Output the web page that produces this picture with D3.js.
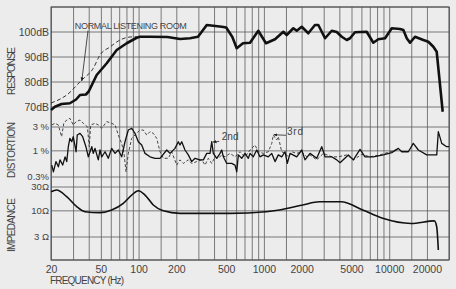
<!DOCTYPE html>
<html>
<head>
<meta charset="utf-8">
<script src="https://cdn.jsdelivr.net/npm/d3@7"></script>
<style>
  body { margin: 0; background: #ececec; }
  svg { display: block; }
  text { font-family: "Liberation Sans", Arial, sans-serif; fill: #444; }
  .grid line { stroke: #5c5c5c; stroke-width: 0.8; }
</style>
</head>
<body>
<script>
// chart size (note: "top" is taken by window.top, so plot* names)
var W = 456, H = 289
var plotLeft = 51, plotRight = 449, plotTop = 7, plotBottom = 260

// frequency grid + labels
var gridFreqs = [20,30,40,50,60,70,80,90,100,150,200,300,400,500,600,700,800,900,
  1000,1500,2000,3000,4000,5000,6000,7000,8000,9000,10000,15000,20000,30000]
var freqLabels = [20,50,100,200,500,1000,2000,5000,10000,20000]

// y tick values per panel
var respTicks = [100, 90, 80, 70]
var respLabels = ["100dB", "90dB", "80dB", "70dB"]
var distTicks = [3, 1, 0.3]
var distLabels = ["3 %", "1 %", "0.3%"]
var impTicks = [30, 10, 3]
var impLabels = ["30\u03a9", "10\u03a9", "3 \u03a9"]

// frequency response, [Hz, dB]
var response = [[20,68.8],[21.5,70.1],[24.3,71.2],[28.3,71.5],[31.7,73],[34.1,74.8],[38,75],
  [40,76.2],[46.3,82.8],[55.7,87.5],[66.9,92.8],[80.4,95.5],[96.6,97.7],[102.6,98.1],[123,98.1],
  [170,98],[214,97.2],[257,97.5],[298,98.1],[350,102.8],[461,102.1],[500,101.8],[560,98],[607,93.5],
  [681,95.5],[775,95.7],[902,100.5],[1039,95.5],[1227,97.1],[1429,100.1],[1520,98.8],[1718,101.5],
  [1828,100.5],[2004,102.1],[2261,99.5],[2557,102.8],[2718,102.8],[3076,97.5],[3478,100.5],
  [3813,100],[4180,98.1],[4583,96.8],[4866,97.5],[5336,99.9],[6610,100.1],[7466,95.7],[8185,97.1],
  [9267,97.5],[10480,101.5],[12200,101.2],[12970,100.8],[13800,97.5],[14660,95.7],[16070,98.1],
  [18720,96.8],[20520,96.1],[22500,94.1],[23930,92.1],[26720,68.1]]

// normal listening room, [Hz, dB]
var room = [[20,71.6],[26.7,74.8],[35.2,80.8],[43.5,85.5],[49.2,90.8],[59.1,94],[71.1,96.8],
  [85.4,98],[97,98.1]]

// 2nd harmonic distortion, [Hz, %]
var second = [[20.3,0.52],[20.9,0.38],[21.9,0.61],[22.9,0.48],[23.6,0.66],[24.8,0.52],[25.9,0.76],
  [26.7,0.61],[27.5,1.21],[28.3,1.78],[29.3,1.52],[30.1,1.92],[31.7,0.96],[32.4,2.07],[34.1,2.24],
  [35.8,1.92],[38,1.21],[39.7,0.76],[42.3,1.21],[43.5,0.89],[44.9,1.12],[47.7,0.66],[49.2,1.04],
  [50.8,0.76],[54,0.96],[57.3,0.71],[61,1.12],[64.9,0.89],[68.9,1.04],[73.3,0.76],[77.9,1.52],
  [82.8,2.61],[88.1,2.83],[93.6,2.24],[99.5,1.52],[105.9,1.31],[112.6,0.89],[123.3,0.76],
  [135.2,0.71],[148.2,0.71],[167.7,1.04],[178.2,0.89],[195.2,1.12],[207.5,1.52],[214,1.31],
  [220.9,1.52],[234.6,1.04],[249.3,0.83],[265.3,0.61],[281.9,0.71],[309.2,0.66],[328.6,0.66],
  [349.8,0.89],[371.6,0.89],[383.4,1.52],[394.9,0.89],[420.4,0.71],[446.7,0.89],[460.9,1.04],
  [474.7,0.76],[505.2,0.56],[553.6,0.56],[588.3,0.52],[607,0.38],[625.1,0.83],[665.3,0.71],
  [706.9,0.89],[751,0.71],[775,0.89],[823,0.76],[876.6,1.04],[931.4,0.76],[989.5,0.83],
  [1085,0.76],[1155,0.89],[1227,0.61],[1303,0.83],[1387,0.76],[1474,0.96],[1538,0.56],[1617,0.89],
  [1828,0.76],[2004,1.04],[2129,0.66],[2334,0.89],[2640,0.71],[2894,1.21],[3076,0.76],[3478,0.76],
  [3813,0.66],[4052,0.58],[4719,0.83],[5172,0.66],[5850,1.07],[6411,0.76],[7466,0.76],[8973,0.83],
  [10474,0.92],[11825,1.12],[12588,0.96],[14212,0.96],[15570,1.41],[17080,1.04],[19930,0.83],
  [23940,0.83],[24660,2.42],[26250,1.41],[28770,1.21],[30000,1.21]]

// 3rd harmonic distortion, [Hz, %]
var third = [[20.3,3.29],[21.5,3.56],[22.9,3.29],[24.3,1.92],[25.3,3.56],[26.7,4.14],[28.3,4.48],
  [30.1,3.29],[31.7,3.83],[34.1,4.14],[36.2,3.56],[39,3.04],[40.4,1.21],[41.5,3.29],[44.9,3.56],
  [47.7,3.29],[50.8,2.83],[55.7,3.83],[61,3.56],[64.9,3.29],[68.9,2.07],[73.3,1.41],[76.5,0.89],
  [79.4,0.38],[82.8,0.89],[88.1,1.78],[96.6,2.24],[102.6,2.61],[109.1,2.61],[116.1,2.07],
  [123.3,2.42],[131,2.24],[139.5,1.78],[148.2,0.96],[157.5,0.71],[172.7,0.71],[183.9,0.96],
  [201.5,0.52],[214,0.66],[227.4,0.56],[249.3,0.66],[265.3,0.56],[291,0.61],[319,0.66],[339,0.52],
  [360.2,0.71],[383.4,0.56],[407.4,0.76],[433,0.71],[460.9,0.83],[489.7,0.76],[536.6,0.89],
  [588.3,0.76],[644.9,0.96],[706.9,0.76],[775,1.04],[849,1.31],[902.7,0.96],[989.5,0.89],
  [1085,0.96],[1155,1.41],[1189,2.07],[1265,1.65],[1303,1.92],[1387,0.96],[1474,0.89],[1566,0.76],
  [1667,0.96],[1828,0.89],[2004,0.96],[2196,0.76],[2334,0.83],[2640,0.66],[2981,0.89],[3478,0.76],
  [3927,0.76],[4582,0.83],[5172,0.66],[6036,0.85],[7026,0.76],[8448,0.83],[10153,0.96],[11825,1.09]]

// impedance, [Hz, ohm]
var impedance = [[20,24.2],[22.2,26.1],[26.7,19.2],[32.1,12.1],[37.3,9.6],[49.2,9.2],[61,10.4],
  [75.5,14.1],[88.1,20.7],[99.5,25.2],[112.6,20.7],[131,13.1],[157.5,10],[214,8.9],[537,8.9],
  [1040,9.6],[1328,10.4],[2041,13.1],[2769,15.2],[4125,15.2],[6148,10.4],[8877,7.1],[14930,5.6],
  [22920,6.3],[23940,4.8],[24660,1.65]]

var svg = d3.select("body").append("svg")
  .attr("width", W)
  .attr("height", H)

var x = d3.scaleLog().domain([20, 30000]).range([plotLeft, plotRight])
var yResp = d3.scaleLinear().domain([70, 110]).range([107, plotTop])
var yDist = d3.scaleLog().domain([0.3, 3]).range([177, 127])
var yImp = d3.scaleLog().domain([3, 30]).range([237, 187])

svg.append("rect").attr("width", W).attr("height", H).attr("fill", "#ececec")

// vertical grid through the whole plot
svg.append("g")
  .attr("class", "grid")
  .attr("transform", "translate(0," + plotBottom + ")")
  .call(d3.axisBottom(x).tickValues(gridFreqs).tickSize(-(plotBottom - plotTop)).tickFormat(""))
  .call(function(g) { g.select(".domain").remove() })

// horizontal grid lines
var hLines = [plotTop].concat(respTicks.map(yResp), distTicks.map(yDist), impTicks.map(yImp), [plotBottom])
svg.append("g").attr("class", "grid")
  .selectAll("line").data(hLines).enter().append("line")
  .attr("x1", plotLeft).attr("x2", plotRight)
  .attr("y1", function(d) { return d }).attr("y2", function(d) { return d })

// outer frame
svg.append("rect")
  .attr("x", plotLeft).attr("y", plotTop)
  .attr("width", plotRight - plotLeft).attr("height", plotBottom - plotTop)
  .attr("fill", "none").attr("stroke", "#4a4a4a").attr("stroke-width", 1)

// frequency labels
var xAxis = svg.append("g")
  .attr("transform", "translate(0," + plotBottom + ")")
  .call(d3.axisBottom(x).tickValues(freqLabels).tickSize(0).tickPadding(6).tickFormat(d3.format("d")))
xAxis.select(".domain").remove()
xAxis.selectAll("text").style("font-size", "10.5px").attr("fill", "#444")
  .style("font-family", "'Liberation Sans', Arial, sans-serif")

svg.append("text").attr("x", plotLeft - 1).attr("y", 284)
  .style("font-size", "10px").attr("textLength", 74).text("FREQUENCY  (Hz)")

// left tick labels
function leftLabels(ticks, labels, scale, size) {
  svg.append("g").selectAll("text").data(ticks).enter().append("text")
    .attr("x", plotLeft - 2)
    .attr("y", function(d) { return scale(d) })
    .attr("dy", "0.35em")
    .attr("text-anchor", "end")
    .style("font-size", size)
    .text(function(d, i) { return labels[i] })
}
leftLabels(respTicks, respLabels, yResp, "10.5px")
leftLabels(distTicks, distLabels, yDist, "9.5px")
leftLabels(impTicks, impLabels, yImp, "9.5px")

// rotated panel titles
function panelTitle(txt, cy, len) {
  svg.append("text")
    .attr("transform", "translate(15," + cy + ") rotate(-90)")
    .attr("text-anchor", "middle")
    .attr("textLength", len)
    .style("font-size", "10px")
    .text(txt)
}
panelTitle("RESPONSE", 71, 48)
panelTitle("DISTORTION", 150, 56)
panelTitle("IMPEDANCE", 225, 54)

// curves
var lineResp = d3.line().x(function(d) { return x(d[0]) }).y(function(d) { return yResp(d[1]) })
var lineDist = d3.line().x(function(d) { return x(d[0]) }).y(function(d) { return yDist(d[1]) })
var lineImp = d3.line().x(function(d) { return x(d[0]) }).y(function(d) { return yImp(d[1]) })
  .curve(d3.curveMonotoneX)

svg.append("path").datum(room).attr("d", lineResp.curve(d3.curveMonotoneX))
  .attr("fill", "none").attr("stroke", "#222").attr("stroke-width", 0.9).attr("stroke-dasharray", "4,2.5")
svg.append("path").datum(response).attr("d", lineResp.curve(d3.curveLinear))
  .attr("fill", "none").attr("stroke", "#111").attr("stroke-width", 2.6).attr("stroke-linejoin", "round")
svg.append("path").datum(third).attr("d", lineDist)
  .attr("fill", "none").attr("stroke", "#333").attr("stroke-width", 0.9).attr("stroke-dasharray", "3,2")
svg.append("path").datum(second).attr("d", lineDist)
  .attr("fill", "none").attr("stroke", "#111").attr("stroke-width", 1.3).attr("stroke-linejoin", "round")
svg.append("path").datum(impedance).attr("d", lineImp)
  .attr("fill", "none").attr("stroke", "#111").attr("stroke-width", 1.6)

// annotations
svg.append("defs").append("marker")
  .attr("id", "ah").attr("viewBox", "0 0 10 10").attr("refX", 9).attr("refY", 5)
  .attr("markerWidth", 5).attr("markerHeight", 5).attr("orient", "auto")
  .append("path").attr("d", "M0,1 L10,5 L0,9 Z").attr("fill", "#222")

function note(txt, tx, ty, size, len, ax1, ay1, ax2, ay2) {
  svg.append("text").attr("x", tx).attr("y", ty)
    .style("font-size", size).attr("textLength", len).text(txt)
  svg.append("line").attr("x1", ax1).attr("y1", ay1).attr("x2", ax2).attr("y2", ay2)
    .attr("stroke", "#222").attr("stroke-width", 0.8).attr("marker-end", "url(#ah)")
}
note("NORMAL LISTENING ROOM", x(31), yResp(101.2), "9px", 112, x(39.5), yResp(100.6), x(35.2), yResp(80.4))
note("2nd", x(460), yDist(1.62), "10px", 17, x(440), yDist(1.55), x(392), yDist(1.5))
note("3rd", x(1530), yDist(2.05), "10px", 16, x(1500), yDist(2.05), x(1200), yDist(2.1))
</script>
</body>
</html>
